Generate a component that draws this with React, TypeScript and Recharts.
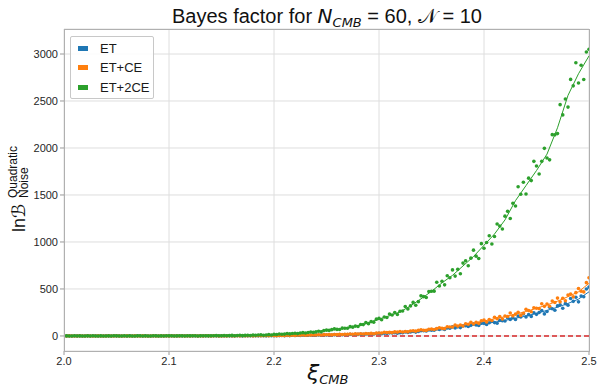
import { ComposedChart, Scatter, Line, XAxis, YAxis, CartesianGrid, ReferenceLine } from 'recharts';

const X_START = 2.0;
const POINT_STEP = 0.0025;
const FIT_STEP = 0.01;

// scatter values, one every 0.0025 in xi from 2.0 to 2.5
const etPoints = [
  -1, 0, 1, -1, 0, 1, 0, -1, 0, 1, -1, 0, 1, 0, -1, 0, 1, -1, 0, 1,
  0, 1, -1, 0, 0, 1, -1, 0, 1, 0, -1, 1, 0, -1, 0, 1, 0, -1, 1, 0,
  1, 0, 1, -1, 0, 1, 2, 0, 1, 0, 1, -1, 2, 0, 1, 1, 0, 2, 1, 0,
  1, 0, 2, 1, 0, 1, 2, 1, 0, 2, 1, 3, 1, 2, 1, 3, 2, 1, 3, 2,
  3, 2, 4, 5, 3, 6, 4, 7, 5, 7, 6, 8, 7, 9, 8, 10, 9, 11, 10, 12,
  11, 13, 10, 14, 12, 15, 13, 16, 14, 18, 15, 19, 17, 20, 18, 22, 20, 23, 21, 26,
  27, 24, 29, 27, 33, 31, 34, 30, 35, 35, 43, 38, 42, 47, 41, 47, 56, 55, 53, 63,
  62, 61, 75, 68, 76, 70, 86, 83, 98, 86, 97, 89, 106, 109, 100, 113, 127, 116, 111, 136,
  134, 123, 140, 157, 142, 136, 166, 162, 159, 194, 176, 193, 176, 212, 202, 233, 203, 227, 208, 247,
  230, 249, 271, 235, 260, 305, 289, 274, 320, 331, 295, 344, 327, 399, 368, 412, 363, 425, 418, 500,
  520,
];

const etcePoints = [
  0, -1, 1, 0, -1, 0, 1, 0, -1, 1, 0, 0, -1, 1, 0, -1, 0, 1, 0, -1,
  1, 0, -1, 0, 1, -1, 0, 1, 0, -1, 1, 0, 0, -1, 1, 0, -1, 1, 0, 1,
  0, 1, -1, 1, 0, 2, 0, 1, -1, 1, 2, 0, 1, 0, 2, 1, 0, 1, 2, 0,
  0, 1, 0, 2, 1, 0, 2, 1, 3, 1, 2, 3, 1, 2, 4, 2, 3, 4, 2, 5,
  4, 3, 5, 6, 4, 7, 5, 8, 6, 9, 7, 10, 8, 11, 9, 12, 10, 13, 11, 14,
  13, 15, 12, 16, 14, 18, 15, 19, 17, 21, 18, 22, 20, 24, 21, 25, 23, 27, 24, 30,
  31, 31, 39, 36, 39, 36, 43, 41, 47, 42, 48, 44, 53, 56, 51, 59, 66, 61, 59, 72,
  73, 68, 78, 88, 81, 78, 98, 96, 95, 116, 105, 116, 106, 130, 124, 145, 128, 145, 134, 161,
  168, 149, 174, 165, 199, 184, 206, 181, 212, 207, 244, 214, 232, 252, 219, 242, 283, 271, 258, 300,
  295, 291, 343, 315, 340, 316, 371, 356, 403, 363, 402, 374, 435, 447, 416, 461, 505, 475, 469, 567,
  620,
];

const et2cePoints = [
  0, 1, -1, 0, 2, 0, 1, -1, 0, 1, 0, 2, -1, 0, 1, 0, -1, 1, 0, 2,
  1, 0, -1, 2, 0, 1, 0, -1, 1, 2, 0, 1, -1, 0, 2, 1, 0, 1, -1, 2,
  1, 2, 0, 1, 3, 1, 0, 2, 1, 3, 2, 0, 1, 3, 2, 1, 3, 2, 4, 2,
  3, 5, 2, 4, 6, 3, 5, 7, 4, 6, 8, 5, 9, 7, 10, 12, 8, 11, 14, 10,
  17, 16, 21, 19, 20, 25, 22, 26, 29, 25, 31, 35, 31, 37, 42, 38, 44, 50, 45, 57,
  62, 59, 67, 75, 70, 68, 83, 82, 82, 99, 94, 105, 100, 122, 121, 142, 131, 153, 147, 179,
  187, 173, 201, 196, 234, 223, 249, 228, 263, 265, 314, 288, 320, 357, 326, 365, 427, 419, 409, 473,
  475, 477, 572, 531, 582, 544, 641, 619, 703, 637, 709, 662, 775, 801, 747, 828, 913, 849, 824, 982,
  934, 995, 1066, 979, 1059, 1192, 1169, 1138, 1275, 1326, 1250, 1412, 1382, 1587, 1508, 1635, 1510, 1679, 1653, 1858,
  1809, 1724, 1858, 1996, 1894, 1874, 2142, 2140, 2153, 2461, 2352, 2522, 2435, 2730, 2661, 2907, 2692, 2880, 2728, 3022,
  3050,
];

// fitted curves, one every 0.01 in xi
const etFit = [
  0, 0, 0, 0, 0, 0, 0, 0, 0, 0, 0, 0, 0, 0, 0, 0,
  1, 1, 2, 2, 3, 5, 6, 7, 9, 11, 13, 15, 18, 21,
  25, 31, 36, 44, 53, 62, 74, 87, 100, 116,
  130, 146, 166, 188, 212, 240, 272, 306, 346, 392, 470,
];
const etceFit = [
  0, 0, 0, 0, 0, 0, 0, 0, 0, 0, 0, 0, 0, 0, 0, 0,
  1, 2, 2, 3, 4, 6, 7, 9, 10, 13, 15, 18, 21, 24,
  31, 38, 43, 51, 60, 70, 84, 100, 116, 136,
  160, 182, 205, 232, 260, 295, 330, 370, 418, 470, 560,
];
const et2ceFit = [
  0, 0, 0, 0, 0, 0, 1, 1, 1, 1, 2, 2, 2, 3, 3, 4,
  5, 7, 10, 13, 17, 22, 28, 35, 45, 60, 72, 85, 108, 138,
  180, 215, 255, 320, 395, 475, 565, 645, 745, 845,
  965, 1085, 1235, 1440, 1600, 1760, 1935, 2215, 2560, 2790, 2980,
];

const xTicks = [2.0, 2.1, 2.2, 2.3, 2.4, 2.5];
const yTicks = [0, 500, 1000, 1500, 2000, 2500, 3000];

const SERIES = [
  { name: 'ET', color: '#1f77b4', points: etPoints, fit: etFit },
  { name: 'ET+CE', color: '#ff7f0e', points: etcePoints, fit: etceFit },
  { name: 'ET+2CE', color: '#2ca02c', points: et2cePoints, fit: et2ceFit },
];

const toRows = (vals: number[], step: number) =>
  vals.map((y, i) => ({ x: +(X_START + i * step).toFixed(4), y }));

const FONT = '"Liberation Sans", Arial, sans-serif';
const MATH = '"DejaVu Sans", sans-serif';
const tickStyle = { fontSize: 11, fill: '#262626', fontFamily: FONT };

const dot = (color: string) => (props: any) =>
  <circle cx={props.cx} cy={props.cy} r={1.8} fill={color} />;

// plot area in page pixels
const PLOT = { left: 64, top: 29, right: 589, bottom: 351 };

export default function App() {
  return (
    <div style={{ position: 'absolute', left: 0, top: 0, width: 597, height: 391, background: '#fff', fontFamily: FONT }}>
      <ComposedChart
        width={597}
        height={391}
        margin={{ top: PLOT.top, right: 597 - PLOT.right, bottom: 0, left: 14 }}
      >
        <CartesianGrid stroke="#dedede" strokeWidth={1} />
        <XAxis
          dataKey="x"
          type="number"
          domain={[2.0, 2.5]}
          ticks={xTicks}
          tickFormatter={(v: number) => v.toFixed(1)}
          allowDataOverflow
          height={391 - PLOT.bottom}
          axisLine={false}
          tickLine={{ stroke: '#9a9a9a' }}
          tickSize={4}
          tick={tickStyle}
        />
        <YAxis
          type="number"
          domain={[-160, 3266]}
          ticks={yTicks}
          allowDataOverflow
          width={PLOT.left - 14}
          axisLine={false}
          tickLine={{ stroke: '#9a9a9a' }}
          tickSize={4}
          tick={tickStyle}
        />
        {SERIES.map(s => (
          <Scatter
            key={s.name + '-pts'}
            name={s.name}
            data={toRows(s.points, POINT_STEP)}
            dataKey="y"
            fill={s.color}
            shape={dot(s.color)}
            isAnimationActive={false}
          />
        ))}
        {SERIES.map(s => (
          <Line
            key={s.name + '-fit'}
            data={toRows(s.fit, FIT_STEP)}
            dataKey="y"
            type="linear"
            stroke={s.color}
            strokeWidth={1}
            dot={false}
            activeDot={false}
            isAnimationActive={false}
          />
        ))}
        <ReferenceLine y={0} stroke="#d62728" strokeWidth={1.5} strokeDasharray="5 3" />
      </ComposedChart>

      {/* axes frame */}
      <div
        style={{
          position: 'absolute',
          left: PLOT.left,
          top: PLOT.top,
          width: PLOT.right - PLOT.left - 1,
          height: PLOT.bottom - PLOT.top - 1,
          border: '1px solid #b0b0b0',
          pointerEvents: 'none',
        }}
      />

      {/* legend */}
      <div
        style={{
          position: 'absolute',
          left: 70,
          top: 36,
          width: 82,
          height: 61,
          border: '1px solid #c8c8c8',
          borderRadius: 2,
          background: 'rgba(255,255,255,0.85)',
          fontSize: 13,
          color: '#1a1a1a',
        }}
      >
        {SERIES.map((s, i) => (
          <div key={s.name} style={{ position: 'absolute', left: 7, top: 2 + i * 19.5, height: 18, display: 'flex', alignItems: 'center' }}>
            <span style={{ display: 'inline-block', width: 10, height: 5, background: s.color, marginRight: 12 }} />
            <span>{s.name}</span>
          </div>
        ))}
      </div>

      {/* title and axis labels */}
      <svg width={597} height={391} style={{ position: 'absolute', left: 0, top: 0, pointerEvents: 'none' }}>
        <text x={327} y={23} textAnchor="middle" fontSize={20} fill="#111" fontFamily={FONT}>
          Bayes factor for <tspan fontStyle="italic" fontFamily={MATH}>N</tspan>
          <tspan fontStyle="italic" fontSize={13} dy={4} fontFamily={MATH}>CMB</tspan>
          <tspan dy={-4}> = 60, </tspan>
          <tspan fontFamily={MATH}>𝒩</tspan>
          <tspan> = 10</tspan>
        </text>
        <text x={307} y={380} fontSize={22} fontStyle="italic" fill="#111" fontFamily={MATH}>
          ξ<tspan fontSize={13} dy={4}>CMB</tspan>
        </text>
        <g transform="translate(25, 232) rotate(-90)">
          <text x={0} y={0} fontSize={18} fill="#111" fontFamily={FONT}>
            ln<tspan fontStyle="italic" fontFamily={MATH}>ℬ</tspan>
          </text>
          <text x={34} y={-8} fontSize={12} fill="#111" fontFamily={FONT}>Quadratic</text>
          <text x={34} y={3} fontSize={12} fill="#111" fontFamily={FONT}>Noise</text>
        </g>
      </svg>
    </div>
  );
}
